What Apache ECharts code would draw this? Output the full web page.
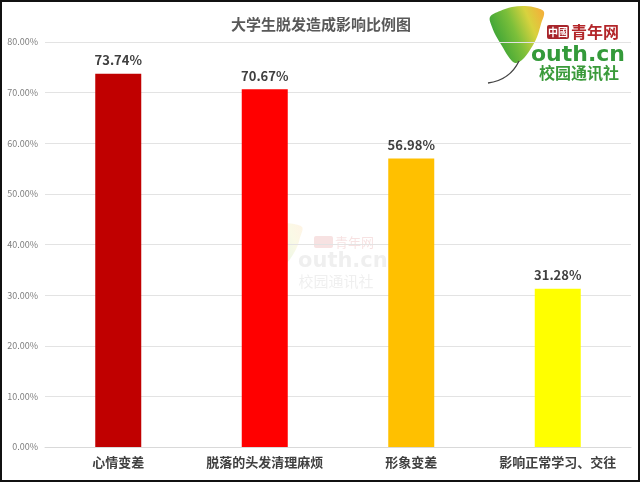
<!DOCTYPE html>
<html><head><meta charset="utf-8">
<script src="https://cdn.jsdelivr.net/npm/echarts@6/dist/echarts.min.js"></script>
<style>html,body{margin:0;padding:0;background:#fff}#c{width:640px;height:482px}</style>
</head><body><div id="c"></div>
<script>
const titleText = '大学生脱发造成影响比例图';
const categories = ['心情变差', '脱落的头发清理麻烦', '形象变差', '影响正常学习、交往'];
const values = [73.74, 70.67, 56.98, 31.28];
const barColors = ['#C00000', '#FF0000', '#FFC000', '#FFFF00'];
const yTicks = [0, 10, 20, 30, 40, 50, 60, 70, 80];

const chart = echarts.init(document.getElementById('c'));
const font = '"Noto Sans CJK SC", "Noto Sans", sans-serif';
const leafPts = [[490,17],[500,11],[512,7],[525,6],[537,8],[544,12],[541,24],[537,37],[530,50],[522,60],[515,63],[508,56],[502,46],[496,36],[492,27]];
function leafFill() {
  return new echarts.graphic.LinearGradient(0, 0.6, 1, 0.2, [
    { offset: 0, color: '#2e9e36' }, { offset: 0.45, color: '#7cbf3a' },
    { offset: 0.75, color: '#d8d23e' }, { offset: 1, color: '#f2b23a' }]);
}
function logo(opacity) {
  return [
    { type: 'polygon', shape: { points: leafPts, smooth: 0.35 }, style: { fill: leafFill(), opacity: opacity } },
    { type: 'bezierCurve', shape: { x1: 519, y1: 61, cpx1: 510, cpy1: 80, x2: 488, y2: 83 }, style: { stroke: '#444', lineWidth: 1.3, fill: 'none', opacity: opacity } }
  ];
}
chart.setOption({
  animation: false,
  title: {
    text: titleText, left: 316, top: 12, textAlign: 'center',
    textStyle: { fontFamily: font, fontSize: 15, fontWeight: 'bold', color: '#595959' }
  },
  grid: { left: 45, right: 9, top: 42, bottom: 35 },
  xAxis: {
    type: 'category', data: categories,
    axisLine: { lineStyle: { color: '#d9d9d9' } },
    axisTick: { show: false },
    axisLabel: { fontFamily: font, fontSize: 13, color: '#404040', fontWeight: 'bold', margin: 9, interval: 0 }
  },
  yAxis: {
    type: 'value', min: yTicks[0], max: yTicks[yTicks.length - 1], interval: 10,
    axisLine: { show: false }, axisTick: { show: false },
    splitLine: { lineStyle: { color: '#e3e3e3' } },
    axisLabel: { fontFamily: font, fontSize: 9, color: '#7f7f7f', margin: 7,
      formatter: v => v.toFixed(2) + '%' }
  },
  series: [{
    type: 'bar', barWidth: 46,
    data: values.map((v, i) => ({ value: v, itemStyle: { color: barColors[i] } })),
    label: { show: true, position: 'top', distance: 7, fontFamily: font, fontSize: 13,
      fontWeight: 'bold', color: '#404040', formatter: p => p.value.toFixed(2) + '%' }
  }],
  graphic: [
    { type: 'rect', shape: { x: 1, y: 1, width: 638, height: 480 }, style: { fill: 'none', stroke: '#111', lineWidth: 2 }, z: 100 },
    { type: 'group', z: 50, children: logo(1) },
    { type: 'rect', shape: { x: 547, y: 25, width: 22, height: 14, r: 2 }, style: { fill: '#a8252b' }, z: 50 },
    { type: 'text', x: 558, y: 32, style: { text: '中國', fontFamily: font, fontSize: 10, fontWeight: 'bold', fill: '#fff', align: 'center', verticalAlign: 'middle' }, z: 51 },
    { type: 'text', x: 571, y: 32, style: { text: '青年网', fontFamily: font, fontSize: 16, fontWeight: 'bold', fill: '#b3262a', verticalAlign: 'middle' }, z: 50 },
    { type: 'text', x: 531, y: 55, style: { text: 'outh.cn', fontFamily: '"DejaVu Sans", sans-serif', fontSize: 22, fontWeight: 'bold', fill: '#349a3a', verticalAlign: 'middle' }, z: 50 },
    { type: 'text', x: 579, y: 73, style: { text: '校园通讯社', fontFamily: font, fontSize: 16, fill: '#3a9a3a', align: 'center', verticalAlign: 'middle', fontWeight: 'bold' }, z: 50 },
    { type: 'group', z: 60, x: 262 - 490 * 0.75, y: 224 - 7 * 0.75, scaleX: 0.75, scaleY: 0.75, children: logo(0.13) },
    { type: 'group', z: 60, children: [
      { type: 'rect', shape: { x: 314, y: 236, width: 19, height: 12, r: 2 }, style: { fill: 'rgba(200,60,60,0.15)' } },
      { type: 'text', x: 335, y: 242, style: { text: '青年网', fontFamily: font, fontSize: 13, fill: 'rgba(200,60,60,0.15)', verticalAlign: 'middle' } },
      { type: 'text', x: 298, y: 262, style: { text: 'outh.cn', fontFamily: '"DejaVu Sans", sans-serif', fontSize: 21, fontWeight: 'bold', fill: 'rgba(120,120,120,0.12)', verticalAlign: 'middle' } },
      { type: 'text', x: 336, y: 281, style: { text: '校园通讯社', fontFamily: font, fontSize: 15, fill: 'rgba(120,120,120,0.12)', align: 'center', verticalAlign: 'middle' } }
    ]}
  ]
});
</script></body></html>
